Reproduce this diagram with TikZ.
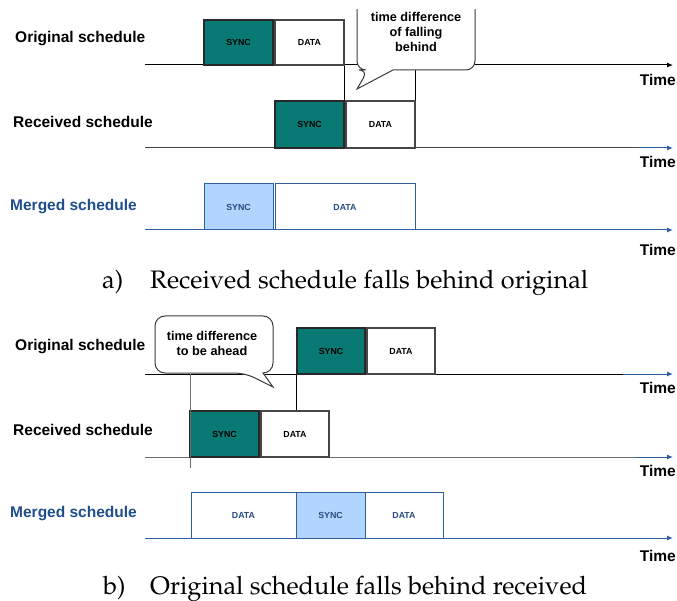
\documentclass[tikz,border=0pt]{standalone}
\usepackage[T1,TU]{fontenc}
\usepackage{fontspec}
\newfontfamily\arial{Liberation Sans}
\newcommand\palfont{\fontencoding{T1}\fontfamily{ppl}\fontseries{m}\fontshape{n}\selectfont}
\usetikzlibrary{arrows.meta}
\definecolor{teal1}{RGB}{8,122,115}
\definecolor{lblue}{RGB}{178,213,255}
\definecolor{bblue}{RGB}{46,96,160}
\definecolor{mblue}{RGB}{31,78,140}
\definecolor{mtext}{RGB}{40,75,130}
\definecolor{boxline}{RGB}{40,40,40}
\definecolor{dline}{RGB}{70,70,70}
\definecolor{bubgray}{RGB}{60,60,60}
\definecolor{axgray}{RGB}{110,110,110}
\begin{document}
\begin{tikzpicture}[x=1pt,y=-1pt,
  lbl/.style={font=\arial\bfseries\fontsize{15.5}{18}\selectfont, anchor=west, inner sep=0},
  mlbl/.style={lbl, text=mblue},
  tlbl/.style={font=\arial\bfseries\fontsize{15.5}{18}\selectfont, anchor=east, inner sep=0},
  box/.style={draw=boxline, line width=1.2pt, inner sep=0, font=\arial\bfseries\fontsize{8.8}{10}\selectfont, minimum height=46pt},
  syncbox/.style={box, fill=teal1},
  databox/.style={box, fill=white, draw=dline},
  msync/.style={box, fill=lblue, draw=bblue, text=mtext, line width=1pt},
  mdata/.style={box, fill=white, draw=bblue, text=mtext, line width=1pt},
  axis/.style={line width=1pt, -{Latex[length=6pt,width=5pt]}},
  vline/.style={line width=0.9pt, draw=black},
  bubble/.style={draw=bubgray, fill=white, line width=1pt},
  btext/.style={font=\arial\bfseries\fontsize{12.7}{15}\selectfont, align=center, inner sep=0},
  caplbl/.style={font=\palfont\fontsize{25.3}{30}\selectfont, anchor=base west, inner sep=0}
]
\useasboundingbox[fill=white] (0,0) rectangle (677,601);

% ---------------- part a ----------------
\node[lbl] (oa) at (15,39) {Original schedule};
\node[lbl] (ra) at (13,122) {Received schedule};
\node[mlbl] (ma) at (10,207) {Merged schedule};

\coordinate (a1s) at (145,65);  \coordinate (a1e) at (673,65);
\coordinate (a2s) at (145,148); \coordinate (a2m) at (639,148); \coordinate (a2e) at (673,148);
\coordinate (a3s) at (145,230); \coordinate (a3e) at (673,230);
\draw[axis, black] (a1s) -- (a1e);
\draw[line width=1pt, dline] (a2s) -- (a2m);
\draw[axis, bblue] (a2m) -- (a2e);
\draw[axis, bblue] (a3s) -- (a3e);

\node[syncbox, minimum width=69pt, minimum height=45pt] (os1) at (238.5,42.5) {SYNC};
\node[databox, minimum width=69pt, minimum height=45pt] (od1) at (309.5,42.5) {DATA};
\node[syncbox, minimum width=69pt, minimum height=47pt] (rs1) at (309.5,124.5) {SYNC};
\node[databox, minimum width=69pt, minimum height=47pt] (rd1) at (380.5,124.5) {DATA};
\node[msync, minimum width=69pt] (ms1) at (238.5,207) {SYNC};
\node[mdata, minimum width=140pt] (md1) at (345,207) {DATA};

\draw[vline] (od1.south east) -- (rs1.north east);
\draw[vline] (rd1.north east) -- (rd1.north east |- a1s);

\node[tlbl] (t1) at (676,80) {Time};
\node[tlbl] (t2) at (676,162) {Time};
\node[tlbl] (t3) at (676,250) {Time};

\begin{scope}
\clip (0,10) rectangle (677,601);
\draw[bubble] (416,-5) [rounded corners=9pt] -- (357,-5) -- (357,70) -- (368,70) [sharp corners] -- (357,89) -- (393,70) [rounded corners=9pt] -- (475,70) -- (475,-5) -- cycle;
\end{scope}
\node[btext] (bubA) at (416,32) {time difference\\of falling\\behind};

\node[caplbl] (capa) at (102,289) {a)};
\node[caplbl] (capat) at (150,289) {Received schedule falls behind original};

% ---------------- part b ----------------
\node[lbl] (ob) at (15,347) {Original schedule};
\node[lbl] (rb) at (13,430) {Received schedule};
\node[mlbl] (mb) at (10,514) {Merged schedule};

\coordinate (b1s) at (145,374); \coordinate (b1m) at (623,374); \coordinate (b1e) at (673,374);
\coordinate (b2s) at (145,457); \coordinate (b2m) at (635,457); \coordinate (b2e) at (673,457);
\coordinate (b3s) at (145,538); \coordinate (b3e) at (673,538);
\draw[line width=1pt, black] (b1s) -- (b1m);
\draw[axis, bblue] (b1m) -- (b1e);
\draw[line width=1pt, axgray] (b2s) -- (b2m);
\draw[axis, bblue] (b2m) -- (b2e);
\draw[axis, bblue] (b3s) -- (b3e);

\node[syncbox, minimum width=68pt] (os2) at (331,351) {SYNC};
\node[databox, minimum width=68pt] (od2) at (401,351) {DATA};
\node[syncbox, minimum width=69pt] (rs2) at (224.5,434) {SYNC};
\node[databox, minimum width=68pt] (rd2) at (295,434) {DATA};
\node[mdata, minimum width=105pt] (mdb1) at (243.5,515) {DATA};
\node[msync, minimum width=69pt] (ms2) at (330.5,515) {SYNC};
\node[mdata, minimum width=78pt] (mdb2) at (404,515) {DATA};

\coordinate (vtop) at (190,374);
\coordinate (vbot) at (190,468);
\draw[vline, axgray] (vtop) -- (vbot);
\draw[vline] (os2.south west) -- (os2.south west |- rd2.north);

\node[tlbl] (t4) at (676,388) {Time};
\node[tlbl] (t5) at (676,471) {Time};
\node[tlbl] (t6) at (676,556) {Time};

\draw[bubble] (214,316) [rounded corners=10pt] -- (155,316) -- (155,373) -- (245,373) [sharp corners] -- (273,387) -- (263,373) [rounded corners=10pt] -- (273,373) -- (273,316) -- cycle;
\node[btext] (bubB) at (212,343.5) {time difference\\to be ahead};

\node[caplbl] (capb) at (103,594) {b)};
\node[caplbl] (capbt) at (150,594) {Original schedule falls behind received};
\end{tikzpicture}
\end{document}
